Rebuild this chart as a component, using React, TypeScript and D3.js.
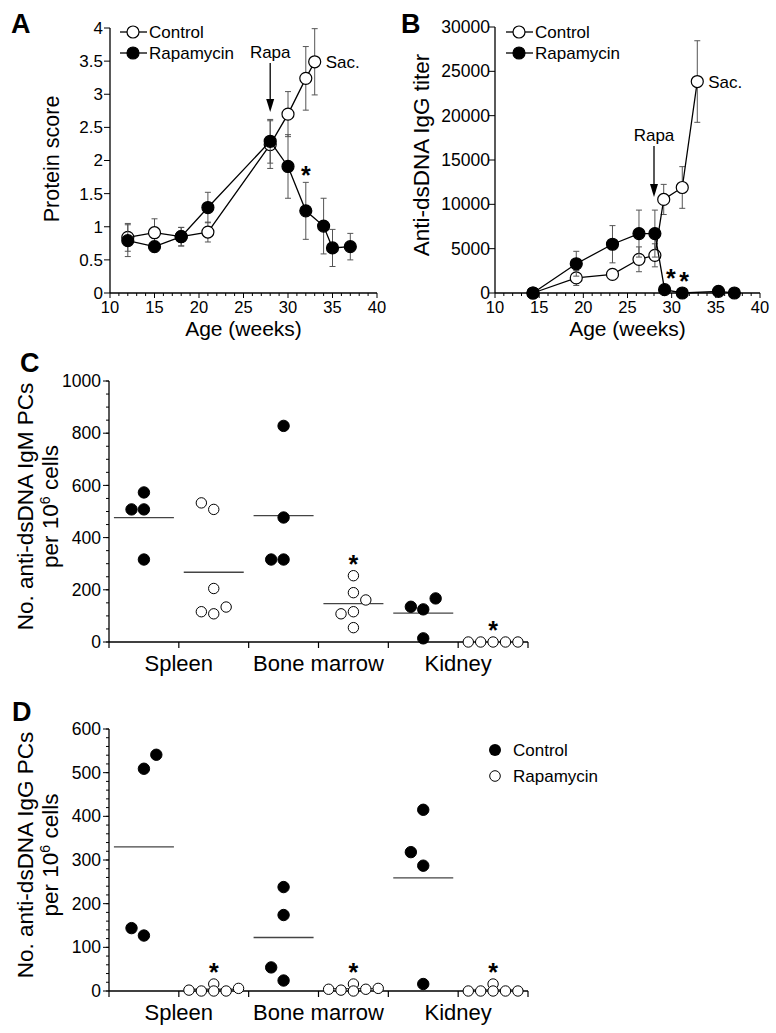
import React from 'react';
import * as d3 from 'd3';

const FONT = '"Liberation Sans", Arial, Helvetica, sans-serif';

// ---------- Panel A: protein score ----------
const weeksAControl = [12, 15, 18, 21, 28, 30, 32, 33];
const proteinControl = [0.84, 0.91, 0.85, 0.92, 2.24, 2.7, 3.24, 3.49];
const proteinControlErr = [0.21, 0.21, 0.14, 0.15, 0.36, 0.34, 0.48, 0.5];
const weeksARapa = [12, 15, 18, 21, 28, 30, 32, 34, 35, 37];
const proteinRapa = [0.79, 0.7, 0.85, 1.29, 2.29, 1.91, 1.24, 1.01, 0.68, 0.7];
const proteinRapaErr = [0.24, 0.08, 0.14, 0.23, 0.33, 0.48, 0.43, 0.42, 0.28, 0.2];
const yTicksA = [0, 0.5, 1, 1.5, 2, 2.5, 3, 3.5, 4];

// ---------- Panel B: anti-dsDNA IgG titer ----------
const weeksBControl = [14.3, 19.2, 23.3, 26.3, 28.1, 29.1, 31.2, 32.9];
const titerControl = [0, 1700, 2100, 3800, 4250, 10550, 11900, 23850];
const titerControlErr = [0, 850, 300, 1400, 1300, 1700, 2350, 4600];
const weeksBRapa = [14.3, 19.2, 23.3, 26.3, 28.1, 29.2, 31.2, 35.3, 37.1];
const titerRapa = [0, 3300, 5500, 6700, 6700, 380, 0, 190, 0];
const titerRapaErr = [0, 1400, 2100, 2650, 2650, 0, 0, 0, 0];
const yTicksB = [0, 5000, 10000, 15000, 20000, 25000, 30000];
const xTicksAge = [10, 15, 20, 25, 30, 35, 40];

// ---------- Panel C: IgM PCs ----------
const organs = ['Spleen', 'Bone marrow', 'Kidney'];
const igmSpleenControl = [508, 508, 573, 316];
const igmSpleenRapa = [533, 508, 205, 116, 108, 134];
const igmBMControl = [828, 477, 316, 316];
const igmBMRapa = [254, 189, 161, 108, 116, 55];
const igmKidneyControl = [135, 125, 167, 14];
const igmKidneyRapa = [0, 0, 0, 0, 0];
const igmStarGroups = [3, 5];
const yTicksC = [0, 200, 400, 600, 800, 1000];

// ---------- Panel D: IgG PCs ----------
const iggSpleenControl = [509, 541, 144, 127];
const iggSpleenRapa = [2, 0, 16, 0, 0, 6];
const iggBMControl = [238, 174, 54, 24];
const iggBMRapa = [4, 2, 16, 0, 4, 6];
const iggKidneyControl = [415, 318, 287, 16];
const iggKidneyRapa = [0, 0, 16, 0, 0, 0];
const iggStarGroups = [1, 3, 5];
const yTicksD = [0, 100, 200, 300, 400, 500, 600];

// layout: dodge columns for overlapping dots (not data)
const colsC = [
  [-1, 0, 0, 0],
  [-1, 0, 0, -1, 0, 1],
  [0, 0, -1, 0],
  [0, 0, 1, -1, 0, 0],
  [-1, 0, 1, 0],
  [-2, -1, 0, 1, 2],
];
const colsD = [
  [0, 1, -1, 0],
  [-2, -1, 0, 0, 1, 2],
  [0, 0, -1, 0],
  [-2, -1, 0, 0, 1, 2],
  [0, -1, 0, 0],
  [-2, -1, 0, 0, 1, 2],
];

const AX = 1.3;

function XAxisAge({ x, y0 }: any) {
  const minor = d3.range(10, 41, 1);
  return (
    <g>
      <line x1={x(10)} x2={x(40)} y1={y0} y2={y0} stroke="#000" strokeWidth={AX} />
      {minor.map((t) => (
        <line key={t} x1={x(t)} x2={x(t)} y1={y0} y2={y0 + (t % 5 === 0 ? 5 : 3)} stroke="#000" strokeWidth={1} />
      ))}
      {xTicksAge.map((t) => (
        <text key={'l' + t} x={x(t)} y={y0 + 20} textAnchor="middle" fontSize={16.5}>
          {t}
        </text>
      ))}
      <text x={(x(10) + x(40)) / 2} y={y0 + 43} textAnchor="middle" fontSize={21}>
        Age (weeks)
      </text>
    </g>
  );
}

function YAxis({ y, x0, ticks, minor, fontSize, labelX }: any) {
  const [b, t] = y.range();
  return (
    <g>
      <line x1={x0} x2={x0} y1={t} y2={b} stroke="#000" strokeWidth={AX} />
      {(minor || []).map((m: number) => (
        <line key={'m' + m} x1={x0 - 3} x2={x0} y1={y(m)} y2={y(m)} stroke="#000" strokeWidth={1} />
      ))}
      {ticks.map((v: number) => (
        <g key={v}>
          <line x1={x0 - 6} x2={x0} y1={y(v)} y2={y(v)} stroke="#000" strokeWidth={1} />
          <text x={labelX} y={y(v)} dy="0.35em" textAnchor="end" fontSize={fontSize}>
            {String(v)}
          </text>
        </g>
      ))}
    </g>
  );
}

function Series({ xs, ys, errs, filled, x, y, r = 6 }: any) {
  const pts: [number, number][] = xs.map((d: number, i: number) => [d, ys[i]]);
  const line = d3
    .line<[number, number]>()
    .x((d) => x(d[0]))
    .y((d) => y(d[1]));
  return (
    <g>
      {xs.map((d: number, i: number) =>
        errs[i] > 0 ? (
          <g key={'e' + i} stroke="#555" strokeWidth={1}>
            <line x1={x(d)} x2={x(d)} y1={y(ys[i] - errs[i])} y2={y(ys[i] + errs[i])} />
            <line x1={x(d) - 3} x2={x(d) + 3} y1={y(ys[i] + errs[i])} y2={y(ys[i] + errs[i])} />
            <line x1={x(d) - 3} x2={x(d) + 3} y1={y(ys[i] - errs[i])} y2={y(ys[i] - errs[i])} />
          </g>
        ) : null
      )}
      <path d={line(pts) || ''} fill="none" stroke="#000" strokeWidth={1.3} />
      {pts.map((p, i) => (
        <circle
          key={'c' + i}
          cx={x(p[0])}
          cy={y(p[1])}
          r={r}
          fill={filled ? '#000' : '#fff'}
          stroke="#000"
          strokeWidth={1.2}
        />
      ))}
    </g>
  );
}

function LineLegend({ x, y }: any) {
  return (
    <g>
      {[
        { label: 'Control', filled: false, dy: 0 },
        { label: 'Rapamycin', filled: true, dy: 21 },
      ].map((l) => (
        <g key={l.label}>
          <line x1={x} x2={x + 27} y1={y + l.dy} y2={y + l.dy} stroke="#000" strokeWidth={1.3} />
          <circle cx={x + 13} cy={y + l.dy} r={6} fill={l.filled ? '#000' : '#fff'} stroke="#000" strokeWidth={1.2} />
          <text x={x + 29} y={y + l.dy} dy="0.36em" fontSize={17}>
            {l.label}
          </text>
        </g>
      ))}
    </g>
  );
}

function Arrow({ x, y1, y2 }: any) {
  return (
    <g>
      <line x1={x} x2={x} y1={y1} y2={y2 - 10} stroke="#000" strokeWidth={1.3} />
      <polygon points={`${x - 4},${y2 - 13} ${x + 4},${y2 - 13} ${x},${y2}`} fill="#000" />
    </g>
  );
}

function Star({ x, y }: any) {
  return (
    <text x={x} y={y} textAnchor="middle" fontSize={25} fontWeight="bold">
      *
    </text>
  );
}

function DotPanel({ groups, cols, y, y0, stars, ticks, minor, title1 }: any) {
  const band = d3.scaleBand<number>().domain(d3.range(6)).range([109, 528]).padding(0);
  const step = 12.4;
  const [b, t] = y.range();
  return (
    <g>
      <YAxis y={y} x0={109} ticks={ticks} minor={minor} fontSize={17.5} labelX={101} />
      <line x1={109} x2={528} y1={y0} y2={y0} stroke="#000" strokeWidth={AX} />
      {d3.range(7).map((i) => {
        const xx = i < 6 ? band(i)! : band(5)! + band.bandwidth();
        return <line key={i} x1={xx} x2={xx} y1={y0} y2={y0 + 6} stroke="#000" strokeWidth={1.2} />;
      })}
      {organs.map((o, i) => (
        <text key={o} x={band(i * 2 + 1)!} y={y0 + 29} textAnchor="middle" fontSize={22}>
          {o}
        </text>
      ))}
      {groups.map((vals: number[], gi: number) => {
        const cx = band(gi)! + band.bandwidth() / 2;
        const m = d3.mean(vals) || 0;
        const filled = gi % 2 === 0;
        return (
          <g key={gi}>
            <line x1={cx - 30} x2={cx + 30} y1={y(m)} y2={y(m)} stroke="#444" strokeWidth={1.3} />
            {vals.map((v, i) => (
              <circle
                key={i}
                cx={cx + cols[gi][i] * step}
                cy={y(v)}
                r={filled ? 5.7 : 5.2}
                fill={filled ? '#000' : '#fff'}
                stroke="#000"
                strokeWidth={1}
              />
            ))}
            {stars.includes(gi) ? <Star x={cx} y={y(d3.max(vals) || 0) - 3} /> : null}
          </g>
        );
      })}
      <g transform={`translate(0, ${(b + t) / 2 - 5})`}>
        <text transform="rotate(-90)" x={0} y={33} textAnchor="middle" fontSize={22.5}>
          {title1}
        </text>
        <text transform="rotate(-90)" x={0} y={58} textAnchor="middle" fontSize={22.5}>
          <tspan>per 10</tspan>
          <tspan dy={-8} fontSize={14}>
            6
          </tspan>
          <tspan dy={8}> cells</tspan>
        </text>
      </g>
    </g>
  );
}

export default function App() {
  const xA = d3.scaleLinear().domain([10, 40]).range([110, 377]);
  const yA = d3.scaleLinear().domain([0, 4]).range([293, 28]);
  const xB = d3.scaleLinear().domain([10, 40]).range([495, 760]);
  const yB = d3.scaleLinear().domain([0, 30000]).range([293, 27]);
  const yC = d3.scaleLinear().domain([0, 1000]).range([642, 381]);
  const yD = d3.scaleLinear().domain([0, 600]).range([991, 729]);

  const groupsC = [igmSpleenControl, igmSpleenRapa, igmBMControl, igmBMRapa, igmKidneyControl, igmKidneyRapa];
  const groupsD = [iggSpleenControl, iggSpleenRapa, iggBMControl, iggBMRapa, iggKidneyControl, iggKidneyRapa];

  return (
    <svg
      width={776}
      height={1033}
      style={{ position: 'absolute', left: 0, top: 0, background: '#fff' }}
      fontFamily={FONT}
    >
      <rect width={776} height={1033} fill="#fff" />

      {/* ---------- A ---------- */}
      <text x={11} y={33} fontSize={27} fontWeight="bold">A</text>
      <YAxis y={yA} x0={110} ticks={yTicksA} fontSize={17} labelX={103} />
      <XAxisAge x={xA} y0={293} />
      <text transform={`translate(59, 159) rotate(-90)`} textAnchor="middle" fontSize={21.5}>
        Protein score
      </text>
      <Series xs={weeksAControl} ys={proteinControl} errs={proteinControlErr} filled={false} x={xA} y={yA} />
      <Series xs={weeksARapa} ys={proteinRapa} errs={proteinRapaErr} filled={true} x={xA} y={yA} />
      <LineLegend x={120} y={32} />
      <text x={xA(28)} y={58} textAnchor="middle" fontSize={17}>Rapa</text>
      <Arrow x={xA(28)} y1={63} y2={112} />
      <text x={xA(33) + 11} y={68} fontSize={17}>Sac.</text>
      <Star x={xA(32)} y={yA(1.24 + 0.43) + 2} />

      {/* ---------- B ---------- */}
      <text x={401} y={33} fontSize={27} fontWeight="bold">B</text>
      <YAxis y={yB} x0={495} ticks={yTicksB} fontSize={17.5} labelX={490} />
      <XAxisAge x={xB} y0={293} />
      <text transform={`translate(429, 155) rotate(-90)`} textAnchor="middle" fontSize={22.5}>
        Anti-dsDNA IgG titer
      </text>
      <Series xs={weeksBControl} ys={titerControl} errs={titerControlErr} filled={false} x={xB} y={yB} />
      <Series xs={weeksBRapa} ys={titerRapa} errs={titerRapaErr} filled={true} x={xB} y={yB} />
      <LineLegend x={506} y={32} />
      <text x={xB(28)} y={141} textAnchor="middle" fontSize={17}>Rapa</text>
      <Arrow x={xB(28)} y1={146} y2={197} />
      <text x={xB(32.9) + 11} y={88} fontSize={17}>Sac.</text>
      <Star x={xB(29.9)} y={287} />
      <Star x={xB(31.4)} y={290} />

      {/* ---------- C ---------- */}
      <text x={20} y={372} fontSize={27} fontWeight="bold">C</text>
      <DotPanel
        groups={groupsC}
        cols={colsC}
        y={yC}
        y0={642}
        stars={igmStarGroups}
        ticks={yTicksC}
        minor={d3.range(0, 1001, 50)}
        title1="No. anti-dsDNA IgM PCs"
      />

      {/* ---------- D ---------- */}
      <text x={12} y={721} fontSize={27} fontWeight="bold">D</text>
      <DotPanel
        groups={groupsD}
        cols={colsD}
        y={yD}
        y0={991}
        stars={iggStarGroups}
        ticks={yTicksD}
        minor={d3.range(0, 601, 20)}
        title1="No. anti-dsDNA IgG PCs"
      />
      <circle cx={495} cy={750} r={6} fill="#000" />
      <text x={513} y={750} dy="0.36em" fontSize={17}>Control</text>
      <circle cx={495} cy={776} r={5.3} fill="#fff" stroke="#000" strokeWidth={1} />
      <text x={513} y={776} dy="0.36em" fontSize={17}>Rapamycin</text>
    </svg>
  );
}
